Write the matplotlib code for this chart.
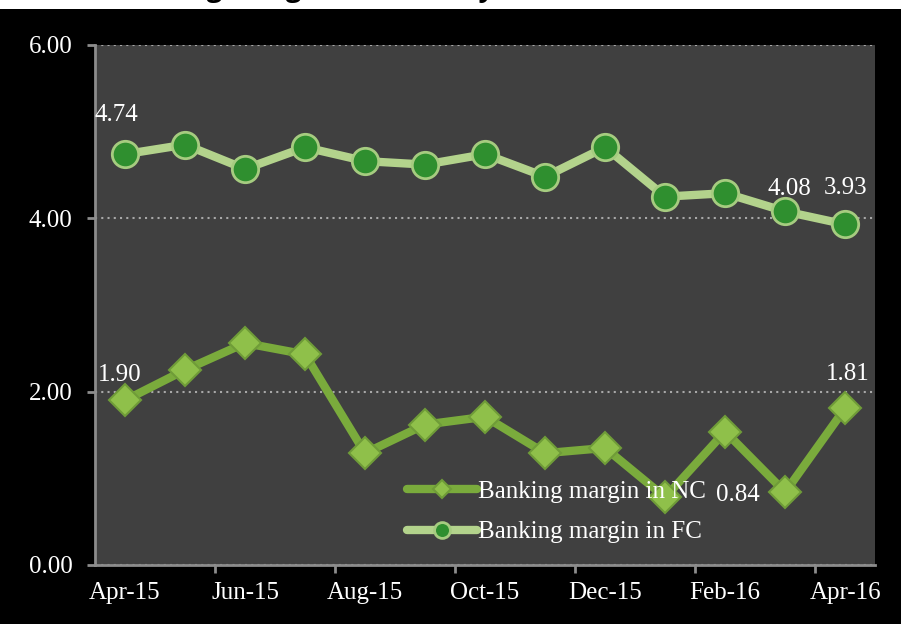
import matplotlib
matplotlib.use("Agg")
import matplotlib.pyplot as plt
import numpy as np

# monthly data, Apr-15 .. Apr-16
months = ["Apr-15", "May-15", "Jun-15", "Jul-15", "Aug-15", "Sep-15", "Oct-15",
          "Nov-15", "Dec-15", "Jan-16", "Feb-16", "Mar-16", "Apr-16"]
margin_nc = [1.90, 2.25, 2.56, 2.43, 1.29, 1.62, 1.71, 1.29, 1.35, 0.78, 1.54, 0.84, 1.81]
margin_fc = [4.74, 4.85, 4.57, 4.82, 4.66, 4.62, 4.74, 4.48, 4.82, 4.25, 4.29, 4.08, 3.93]
series_names = ["Banking margin in NC", "Banking margin in FC"]
yticks = [0.0, 2.0, 4.0, 6.0]
title = "Banking margin (% monthly)"

plt.rcParams["font.family"] = ["Liberation Serif", "DejaVu Serif"]

fig = plt.figure(figsize=(9.01, 6.24), dpi=100, facecolor="black")
ax = fig.add_axes([0.1054, 0.0946, 0.866, 0.8333])
ax.set_facecolor("#404040")

# cut-off heading strip at the very top (only descenders show)
fig.patches.append(plt.Rectangle((0, 1 - 9 / 624), 1, 9 / 624, transform=fig.transFigure,
                                 facecolor="white", edgecolor="none", zorder=0))
fig.text(0.34, 1 + 4 / 624, title, ha="center", va="baseline", fontsize=20,
         fontweight="bold", color="black", family=["Open Sans", "DejaVu Sans"])

x = np.arange(len(months))

ax.plot(x, margin_nc, color="#7aab3c", lw=6, marker="D", ms=16,
        mfc="#8fc04a", mec="#6f9c38", mew=1.5, label=series_names[0],
        solid_capstyle="round", solid_joinstyle="round", zorder=3)
ax.plot(x, margin_fc, color="#b3d38c", lw=6, marker="o", ms=19,
        mfc="#2f8f2f", mec="#a6cc80", mew=2, label=series_names[1],
        solid_capstyle="round", solid_joinstyle="round", zorder=3)

# data labels
lbl_kw = dict(color="white", fontsize=18, textcoords="offset points", ha="center")
ax.annotate(f"{margin_fc[0]:.2f}", (x[0], margin_fc[0]), xytext=(-6, 24), **lbl_kw)
ax.annotate(f"{margin_fc[11]:.2f}", (x[11], margin_fc[11]), xytext=(3, 12), **lbl_kw)
ax.annotate(f"{margin_fc[12]:.2f}", (x[12], margin_fc[12]), xytext=(0, 22), **lbl_kw)
ax.annotate(f"{margin_nc[0]:.2f}", (x[0], margin_nc[0]), xytext=(-4, 14), **lbl_kw)
ax.annotate(f"{margin_nc[11]:.2f}", (x[11], margin_nc[11]), xytext=(-34, -6), **lbl_kw)
ax.annotate(f"{margin_nc[12]:.2f}", (x[12], margin_nc[12]), xytext=(2, 20), **lbl_kw)

ax.set_xlim(-0.5, len(months) - 0.5)
ax.set_ylim(0, 6)
ax.set_yticks(yticks)
ax.set_yticklabels([f"{v:.2f}" for v in yticks])
ax.set_xticks(x[::2])
ax.set_xticklabels(months[::2])
ax.set_xticks(np.arange(-0.5, len(months), 2)[1:], minor=True)
ax.tick_params(axis="x", which="major", length=0, pad=12, labelsize=18, colors="white")
ax.tick_params(axis="x", which="minor", length=6, width=2, color="#8c8c8c")
ax.tick_params(axis="y", length=6, width=2, color="#8c8c8c", pad=10,
               labelsize=18, labelcolor="white")

ax.grid(axis="y", color="#a8a8a8", ls=(0, (1, 2)), lw=1.5)
ax.set_axisbelow(True)
for s in ["top", "right"]:
    ax.spines[s].set_visible(False)
for s in ["left", "bottom"]:
    ax.spines[s].set_color("#8c8c8c")
    ax.spines[s].set_linewidth(2)

leg = ax.legend(loc="upper left", bbox_to_anchor=(0.40, 0.163), frameon=False,
                fontsize=18, handlelength=2.8, handletextpad=0.05, markerscale=0.6,
                labelspacing=0.73, borderaxespad=0, borderpad=0)
for t in leg.get_texts():
    t.set_color("white")

fig.savefig("out.png", dpi=100, facecolor="black")
